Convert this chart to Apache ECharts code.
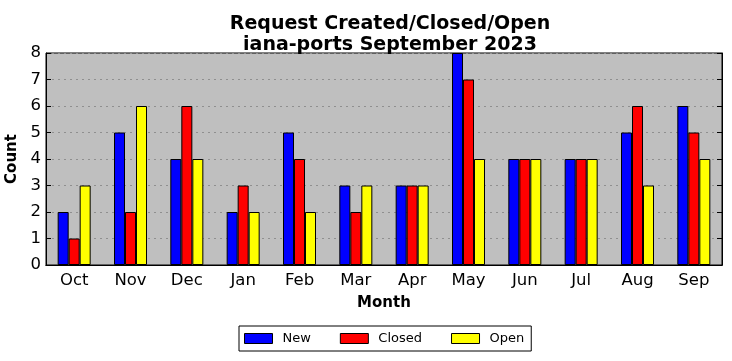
<!DOCTYPE html>
<html><head><meta charset="utf-8">
<script src="https://cdn.jsdelivr.net/npm/echarts@6/dist/echarts.min.js"></script>
<style>html,body{margin:0;padding:0;background:#fff}#c{width:732px;height:361px}</style>
</head><body><div id="c"></div>
<script>
const months = ["Oct","Nov","Dec","Jan","Feb","Mar","Apr","May","Jun","Jul","Aug","Sep"];
const newVals = [2,5,4,2,5,3,3,8,4,4,5,6];
const closedVals = [1,2,6,3,4,2,3,7,4,4,6,5];
const openVals = [3,6,4,2,2,3,3,4,4,4,3,4];
const yTicks = [0,1,2,3,4,5,6,7,8];

const font = "DejaVu Sans";
const chart = echarts.init(document.getElementById('c'), null, {renderer:'canvas'});
const mkBar = (name, data, color) => ({
  name, type:'bar', data, barWidth:11, barGap:'0%',
  itemStyle:{color, borderColor:'#000', borderWidth:1}
});
chart.setOption({
  animation:false,
  backgroundColor:'#fff',
  title:{
    text:'Request Created/Closed/Open\niana-ports September 2023',
    left:385, top:9, textAlign:'center',
    textStyle:{fontFamily:font, fontSize:19, fontWeight:'bold', color:'#000', lineHeight:21}
  },
  legend:{
    top:326, left:239,
    data:['New','Closed','Open'],
    icon:'rect',
    itemWidth:28, itemHeight:10, itemGap:29,
    borderColor:'#000', borderWidth:1, padding:[6,7,6,5],
    borderRadius:0,
    textStyle:{fontFamily:font, fontSize:13, color:'#000', padding:[0,0,0,5]},
    itemStyle:{borderColor:'#000', borderWidth:1}
  },
  grid:{left:46, right:10, top:53, bottom:96, outerBoundsMode:'none', containLabel:false,
        show:true, backgroundColor:'#bfbfbf', borderColor:'#000', borderWidth:1},
  xAxis:[{
    type:'category', data:months,
    name:'Month', nameLocation:'middle', nameGap:31,
    nameTextStyle:{fontFamily:font, fontSize:15, fontWeight:'bold', color:'#000'},
    axisLine:{lineStyle:{color:'#000'}},
    axisTick:{alignWithLabel:true, inside:true, length:5, lineStyle:{color:'#000'}},
    axisLabel:{fontFamily:font, fontSize:16.5, color:'#000', margin:7}
  },{
    type:'category', data:months, position:'top',
    axisLine:{lineStyle:{color:'#000'}},
    axisTick:{alignWithLabel:true, inside:true, length:5, lineStyle:{color:'#000'}},
    axisLabel:{show:false}
  }],
  yAxis:[{
    type:'value', min:yTicks[0], max:yTicks[yTicks.length-1], interval:1,
    name:'Count', nameLocation:'middle', nameGap:24,
    nameTextStyle:{fontFamily:font, fontSize:15, fontWeight:'bold', color:'#000'},
    axisLine:{show:true, lineStyle:{color:'#000'}},
    axisTick:{show:true, inside:true, length:5, lineStyle:{color:'#000'}},
    axisLabel:{fontFamily:font, fontSize:16.5, color:'#000', margin:5},
    splitLine:{show:true, lineStyle:{color:'#8f8f8f', type:[2,4], width:1}}
  },{
    type:'value', min:yTicks[0], max:yTicks[yTicks.length-1], interval:1, position:'right',
    axisLine:{show:true, lineStyle:{color:'#000'}},
    axisTick:{show:true, inside:true, length:5, lineStyle:{color:'#000'}},
    axisLabel:{show:false}, splitLine:{show:false}
  }],
  series:[
    mkBar('New', newVals, '#0000ff'),
    mkBar('Closed', closedVals, '#ff0000'),
    mkBar('Open', openVals, '#ffff00')
  ]
});
</script></body></html>
